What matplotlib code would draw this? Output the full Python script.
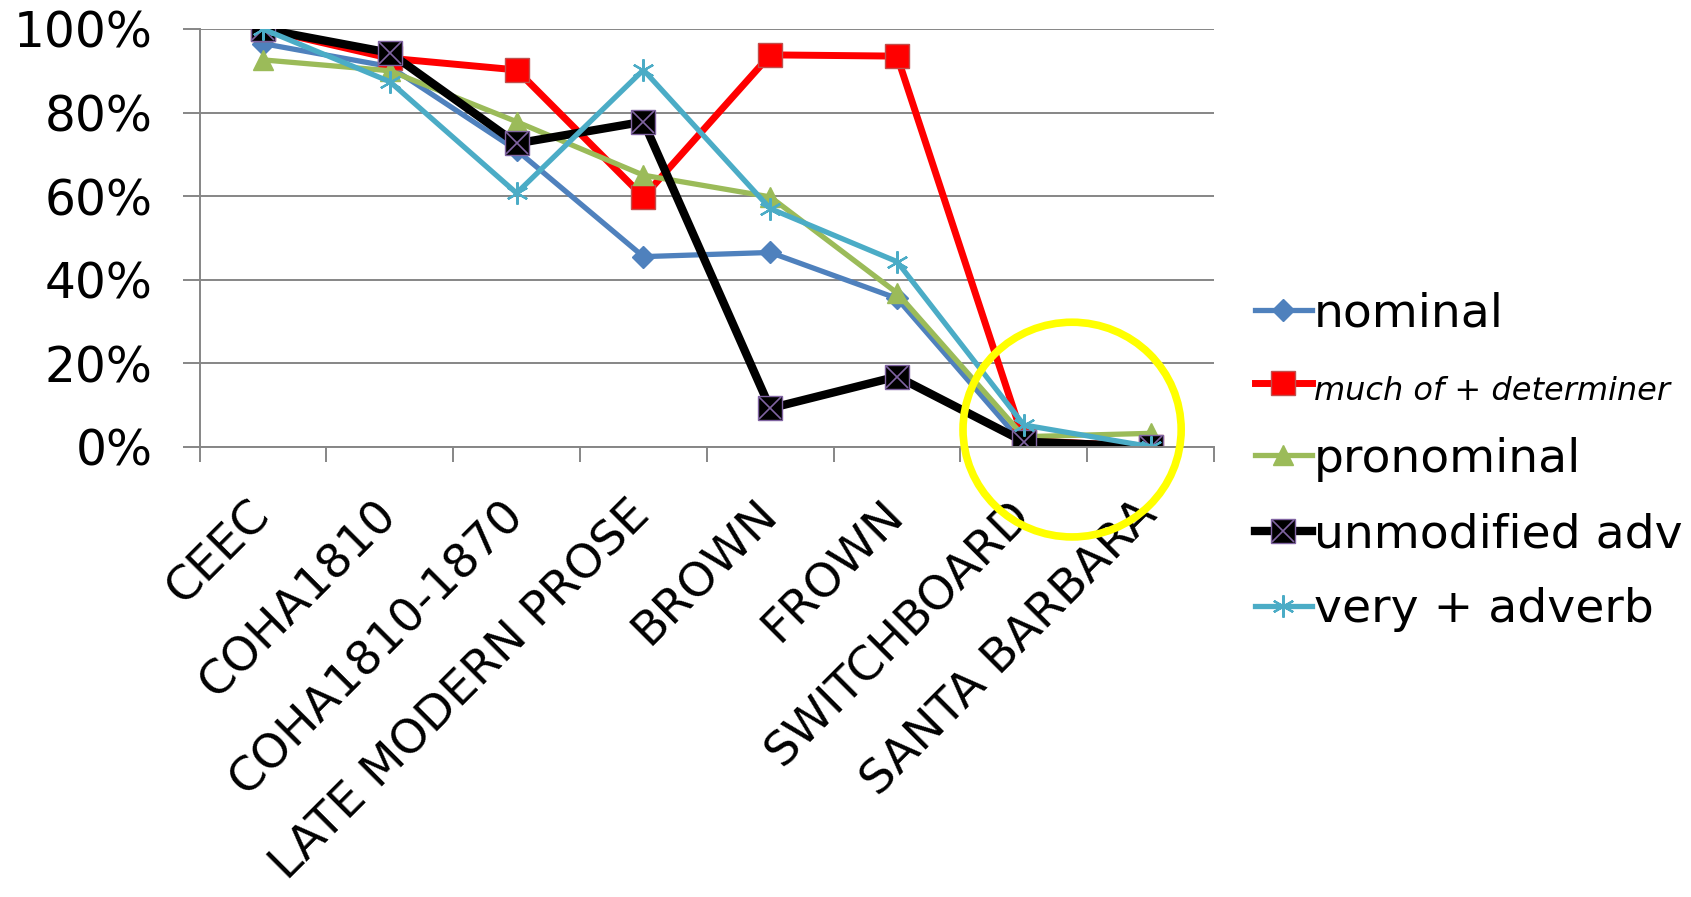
import numpy as np
import matplotlib.pyplot as plt
from matplotlib.patches import Ellipse
from matplotlib.legend_handler import HandlerTuple
from matplotlib.ticker import FixedLocator, PercentFormatter

corpora = ["CEEC", "COHA1810", "COHA1810-1870", "LATE MODERN PROSE",
           "BROWN", "FROWN", "SWITCHBOARD", "SANTA BARBARA"]

nominal = [96.5, 91, 71, 45.5, 46.5, 35.5, 0.5, 0]
much_of_det = [100, 93, 90.2, 59.8, 93.8, 93.5, 1.5, 0]
pronominal = [92.6, 90, 77.8, 65, 59.8, 36.8, 2.4, 3.2]
unmodified_adv = [100, 94.3, 72.6, 77.8, 9.2, 16.8, 1.2, 0]
very_adverb = [100, 87.4, 60.7, 90.2, 57, 44.3, 5.2, 0]

grey = "#868686"
fs = 35

fig = plt.figure(figsize=(16.91, 8.97), dpi=100)
ax = fig.add_axes([0.118, 0.502, 0.600, 0.4657])

x = np.arange(len(corpora))

l_nom, = ax.plot(x, nominal, color="#4F81BD", lw=3.8, marker="D", ms=11,
                 mec="#4F81BD", label="nominal")
l_much, = ax.plot(x, much_of_det, color="#FF0000", lw=5, marker="s", ms=17,
                  mfc="#FF0000", mec="#C0504D", mew=1, label="much of + determiner")
l_pro, = ax.plot(x, pronominal, color="#9BBB59", lw=3.8, marker="^", ms=15,
                 mec="#9BBB59", label="pronominal")
l_unm, = ax.plot(x, unmodified_adv, color="black", lw=6, marker="s", ms=17,
                 mfc="black", mec="#8064A2", mew=1)
l_unm_x, = ax.plot(x, unmodified_adv, ls="none", marker="x", ms=16,
                   mec="#8064A2", mew=1.2)
l_very, = ax.plot(x, very_adverb, color="#4BACC6", lw=3.8, marker=(6, 2, 0),
                  ms=16, mec="#4BACC6", mew=1.6, label="very + adverb")

# highlight ring around the spoken corpora
ring = Ellipse((6.38, 4.1), 1.72, 51.4, fill=False, ec="#FFFF00", lw=5.5,
               clip_on=False, zorder=10)
ax.add_patch(ring)

ax.set_xlim(-0.5, len(corpora) - 0.5)
ax.set_ylim(0, 100)
ax.yaxis.set_major_locator(FixedLocator([0, 20, 40, 60, 80, 100]))
ax.yaxis.set_major_formatter(PercentFormatter(decimals=0))
ax.grid(axis="y", color=grey, lw=1.4)
ax.set_axisbelow(True)

ax.set_xticks(x)
ax.set_xticklabels(corpora, rotation=45, ha="right", va="center",
                   rotation_mode="anchor")
ax.set_xticks(np.arange(-0.5, len(corpora)), minor=True)
ax.tick_params(axis="x", which="major", length=0, pad=44, labelsize=34)
ax.tick_params(axis="x", which="minor", length=11, width=1.4, color=grey,
               direction="out")
ax.tick_params(axis="y", length=12, width=1.4, color=grey, pad=22, labelsize=fs)

for side in ("top", "right"):
    ax.spines[side].set_visible(False)
for side in ("left", "bottom"):
    ax.spines[side].set_color(grey)
    ax.spines[side].set_linewidth(1.4)

handles = [l_nom, l_much, l_pro, (l_unm, l_unm_x), l_very]
labels = ["nominal", "much of + determiner", "pronominal",
          "unmodified adv", "very + adverb"]
leg = fig.legend(handles, labels, loc="center left",
                 bbox_to_anchor=(0.717, 0.485), frameon=False, fontsize=34,
                 handlelength=1.2, handletextpad=0.05, labelspacing=0.64,
                 handler_map={tuple: HandlerTuple(ndivide=1)})
leg.get_texts()[1].set_fontsize(23)
leg.get_texts()[1].set_style("italic")

fig.savefig("out.png", dpi=100)
